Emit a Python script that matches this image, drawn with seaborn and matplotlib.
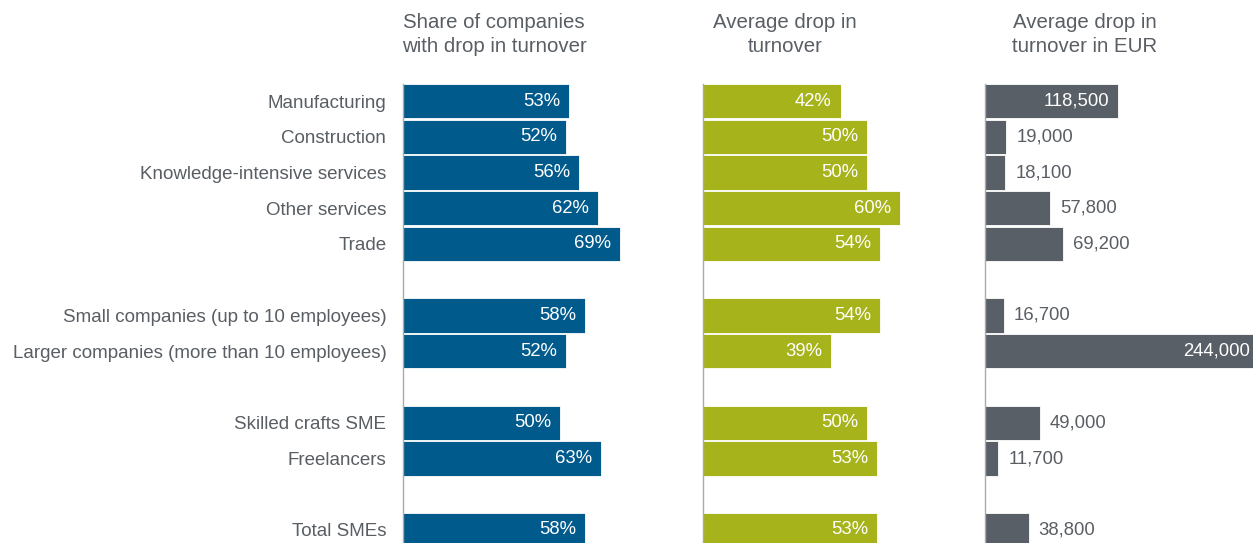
import matplotlib
matplotlib.use("Agg")
import matplotlib.pyplot as plt
import seaborn as sns
import pandas as pd

# ---- data ----
sectors = ["Manufacturing", "Construction", "Knowledge-intensive services", "Other services", "Trade"]
sizes = ["Small companies (up to 10 employees)", "Larger companies (more than 10 employees)"]
types = ["Skilled crafts SME", "Freelancers"]
total = ["Total SMEs"]

share_drop = [0.53, 0.52, 0.56, 0.62, 0.69, 0.58, 0.52, 0.50, 0.63, 0.58]
avg_drop = [0.42, 0.50, 0.50, 0.60, 0.54, 0.54, 0.39, 0.50, 0.53, 0.53]
avg_drop_eur = [118500, 19000, 18100, 57800, 69200, 16700, 244000, 49000, 11700, 38800]

titles = ["Share of companies\nwith drop in turnover",
          "Average drop in\nturnover",
          "Average drop in\nturnover in EUR"]

# ---- build table ----
categories = sectors + sizes + types + total
df = pd.DataFrame({"category": categories, "share": share_drop,
                   "avg": avg_drop, "eur": avg_drop_eur})
spacers = [" ", "  ", "   "]
order = sectors + [spacers[0]] + sizes + [spacers[1]] + types + [spacers[2]] + total

# ---- style ----
sns.set_theme(style="white")
plt.rcParams["font.family"] = ["Liberation Sans", "DejaVu Sans"]
TEXT = "#595e64"
BLUE = "#005a8c"
GREEN = "#a6b31a"
GRAY = "#585f66"
AXIS = "#aaaaaa"

W, H = 1253, 543
fig = plt.figure(figsize=(W / 100, H / 100), dpi=100)

ax_top_px = 84
ax_bot_px = 543
row_px = 35.75
first_center_px = 101
y_top = -(first_center_px - ax_top_px) / row_px
y_bot = (ax_bot_px - first_center_px) / row_px

panels = [
    dict(col="share", color=BLUE, left=403, right=683, scale=314.0, fmt=lambda v: f"{v*100:.0f}%", inside=lambda v: True),
    dict(col="avg", color=GREEN, left=703, right=965, scale=328.0, fmt=lambda v: f"{v*100:.0f}%", inside=lambda v: True),
    dict(col="eur", color=GRAY, left=985, right=1253, scale=0.0011235, fmt=lambda v: f"{v:,.0f}", inside=lambda v: v > 100000),
]
title_centers = [494, 785, 1085]

for i, p in enumerate(panels):
    ax = fig.add_axes([p["left"] / W, (H - ax_bot_px) / H,
                       (p["right"] - p["left"]) / W, (ax_bot_px - ax_top_px) / H])
    sns.barplot(data=df, x=p["col"], y="category", order=order, orient="h",
                color=p["color"], saturation=1, width=0.955,
                edgecolor="white", linewidth=0.6, ax=ax)
    xmax = (p["right"] - p["left"]) / p["scale"]
    ax.set_xlim(0, xmax)
    ax.set_ylim(y_bot, y_top)
    pad = 9 / p["scale"]
    for cat, v in zip(df["category"], df[p["col"]]):
        ypos = order.index(cat)
        if p["inside"](v):
            ax.text(v - pad, ypos, p["fmt"](v), ha="right", va="center",
                    color="white", fontsize=13.3)
        else:
            ax.text(v + 10 / p["scale"], ypos, p["fmt"](v), ha="left", va="center",
                    color=TEXT, fontsize=13.3)
    for s in ["top", "right", "bottom"]:
        ax.spines[s].set_visible(False)
    ax.spines["left"].set_color(AXIS)
    ax.spines["left"].set_linewidth(1.0)
    ax.set_xticks([])
    ax.set_xlabel("")
    ax.set_ylabel("")
    ax.tick_params(axis="y", length=0, pad=12, labelsize=13.5, labelcolor=TEXT)
    if i > 0:
        ax.set_yticklabels([])
    ax.patch.set_alpha(0)
    fig.text(title_centers[i] / W, 1 - 13 / H, titles[i], ha="center", va="top",
             fontsize=14.7, color=TEXT, linespacing=1.32)

fig.savefig("out.png", dpi=100)
